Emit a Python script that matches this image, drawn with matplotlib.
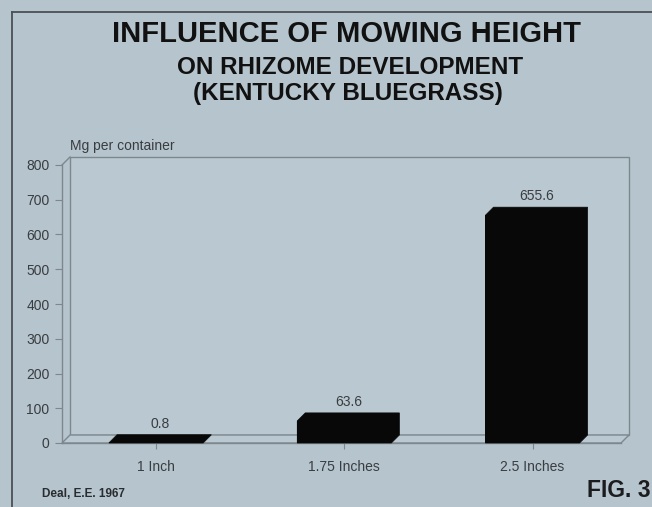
import matplotlib
matplotlib.use("Agg")
import matplotlib.pyplot as plt
from matplotlib.patches import Polygon

plt.rcParams['font.family'] = ['Liberation Sans', 'DejaVu Sans']

# ---- data ----
categories = ["1 Inch", "1.75 Inches", "2.5 Inches"]
values = [0.8, 63.6, 655.6]
value_labels = ["0.8", "63.6", "655.6"]
yticks = [0, 100, 200, 300, 400, 500, 600, 700, 800]
title_lines = ["INFLUENCE OF MOWING HEIGHT", "ON RHIZOME DEVELOPMENT", "(KENTUCKY BLUEGRASS)"]
y_label = "Mg per container"
source = "Deal, E.E. 1967"
fig_label = "FIG. 3"

W, H = 652, 507
BG = "#b5c4cd"
WALL = "#b9c8d1"
LINE = "#7d878d"
TXT = "#3a3d40"
BAR = "#080808"

fig = plt.figure(figsize=(W / 100, H / 100), dpi=100, facecolor=BG)

# frame lines of the slide
fig.add_artist(plt.Line2D([12 / W, 1], [1 - 12 / H, 1 - 12 / H], color="#4a4f52", lw=1.3))
fig.add_artist(plt.Line2D([12 / W, 12 / W], [0, 1 - 12 / H], color="#4a4f52", lw=1.3))

# axes in pixel geometry
x_left, x_right, y_bot, y_top = 62, 621, 443, 165
ax = fig.add_axes([x_left / W, (H - y_bot) / H, (x_right - x_left) / W, (y_bot - y_top) / H])
ax.set_facecolor("none")
xmin, xmax = -0.5, 2.47
ax.set_xlim(xmin, xmax)
ax.set_ylim(0, 800)

# depth offsets (pixels -> data)
d_px = 8
dx = d_px * (xmax - xmin) / (x_right - x_left)
dy = d_px * 800 / (y_bot - y_top)

# back wall and floor
wall = Polygon([(xmin + dx, dy), (xmax + dx, dy), (xmax + dx, 800 + dy), (xmin + dx, 800 + dy)],
               closed=True, facecolor=WALL, edgecolor=LINE, lw=1.0, clip_on=False, zorder=0)
ax.add_patch(wall)
floor = Polygon([(xmin, 0), (xmax, 0), (xmax + dx, dy), (xmin + dx, dy)],
                closed=True, facecolor=WALL, edgecolor=LINE, lw=1.0, clip_on=False, zorder=0.5)
ax.add_patch(floor)
ax.plot([xmin, xmin + dx], [800, 800 + dy], color=LINE, lw=1.0, clip_on=False)

# bars (3D look)
bw = 0.5
xs = list(range(len(categories)))
ax.bar(xs, values, width=bw, color=BAR, zorder=3)
for x, v, lab in zip(xs, values, value_labels):
    x0, x1 = x - bw / 2, x + bw / 2
    hull = Polygon([(x0, 0), (x1, 0), (x1 + dx, dy), (x1 + dx, v + dy),
                    (x0 + dx, v + dy), (x0, v)], closed=True,
                   facecolor=BAR, edgecolor=BAR, lw=0.5, clip_on=False, zorder=3)
    ax.add_patch(hull)
    ax.text(x + dx / 2, v + dy + 12, lab, ha="center", va="bottom",
            fontsize=10, color=TXT)

# spines and ticks
for s in ["top", "right"]:
    ax.spines[s].set_visible(False)
for s in ["left", "bottom"]:
    ax.spines[s].set_color(LINE)
    ax.spines[s].set_linewidth(1.0)
ax.set_yticks(yticks)
ax.set_yticklabels([str(t) for t in yticks])
ax.set_xticks(xs)
ax.set_xticklabels(categories)
ax.tick_params(axis="y", length=5, width=0.8, color=LINE, pad=4, labelsize=10, labelcolor=TXT)
ax.tick_params(axis="x", length=4, width=0.8, color=LINE, pad=8, labelsize=10, labelcolor=TXT)

# y-axis label
fig.text(70 / W, 1 - 146 / H, y_label, ha="left", va="center", fontsize=10, color=TXT)

# titles
fig.text(347 / W, 1 - 42 / H, title_lines[0], ha="center", va="baseline",
         fontsize=21, fontweight="bold", color="#111111")
fig.text(350 / W, 1 - 74 / H, title_lines[1], ha="center", va="baseline",
         fontsize=17.5, fontweight="bold", color="#111111")
fig.text(348 / W, 1 - 100 / H, title_lines[2], ha="center", va="baseline",
         fontsize=17.5, fontweight="bold", color="#111111")

# source & fig label
fig.text(42 / W, 1 - 497 / H, source, ha="left", va="baseline",
         fontsize=8.5, fontweight="bold", color="#2a2d30")
fig.text(651 / W, 1 - 497 / H, fig_label, ha="right", va="baseline",
         fontsize=16.5, fontweight="bold", color="#1a1c1e")

fig.savefig("out.png", dpi=100, facecolor=BG)
